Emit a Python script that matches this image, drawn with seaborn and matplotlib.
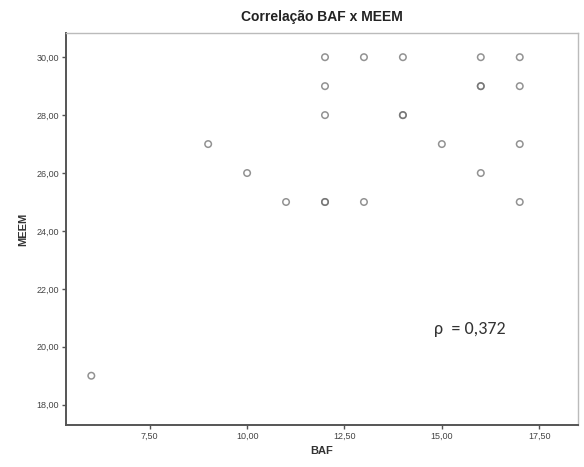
import matplotlib
matplotlib.use("Agg")
import matplotlib.pyplot as plt
import seaborn as sns
import pandas as pd
from matplotlib.ticker import FixedLocator, FuncFormatter

baf = [6, 9, 10, 11, 12, 12, 12, 12, 12, 13, 13, 14, 14, 14, 15, 16, 16, 16, 16, 17, 17, 17, 17]
meem = [19, 27, 26, 25, 25, 25, 28, 29, 30, 30, 25, 30, 28, 28, 27, 30, 29, 29, 26, 30, 29, 27, 25]
x_ticks = [7.5, 10.0, 12.5, 15.0, 17.5]
y_ticks = [18, 20, 22, 24, 26, 28, 30]
title = "Correlação BAF x MEEM"
rho_text = "ρ  = 0,372"

df = pd.DataFrame({"BAF": baf, "MEEM": meem})

sns.set_style("white")
plt.rcParams["font.family"] = ["Liberation Sans", "DejaVu Sans"]

fig = plt.figure(figsize=(5.84, 4.67), dpi=100)
ax = fig.add_axes([0.113, 0.090, 0.877, 0.839])

sns.scatterplot(data=df, x="BAF", y="MEEM", ax=ax, marker="o", s=22,
                facecolors="none", edgecolor="#6e6e6e", linewidth=1.1, alpha=0.75)

ax.set_xlim(5.35, 18.5)
ax.set_ylim(17.3, 30.83)
ax.xaxis.set_major_locator(FixedLocator(x_ticks))
ax.yaxis.set_major_locator(FixedLocator(y_ticks))
fmt = FuncFormatter(lambda v, p: f"{v:.2f}".replace(".", ","))
ax.xaxis.set_major_formatter(fmt)
ax.yaxis.set_major_formatter(fmt)
ax.tick_params(axis="both", which="major", labelsize=6.5, colors="#555555",
               length=3, width=1, direction="out", bottom=True, left=True, pad=2)
for lab in ax.get_xticklabels() + ax.get_yticklabels():
    lab.set_color("#444444")

for side in ["left", "bottom"]:
    ax.spines[side].set_color("#555555")
    ax.spines[side].set_linewidth(1.4)
for side in ["top", "right"]:
    ax.spines[side].set_color("#bbbbbb")
    ax.spines[side].set_linewidth(1.0)

ax.set_xlabel("BAF", fontsize=8, fontweight="bold", color="#333333", labelpad=4)
ax.set_ylabel("MEEM", fontsize=8, fontweight="bold", color="#333333", labelpad=6)
ax.set_title(title, fontsize=10, fontweight="bold", color="#222222", pad=9)

ax.text(14.8, 20.62, rho_text, fontsize=13, color="#333333", va="center", ha="left",
        family=["Carlito", "Liberation Sans", "DejaVu Sans"])

fig.savefig("out.png", dpi=100)
